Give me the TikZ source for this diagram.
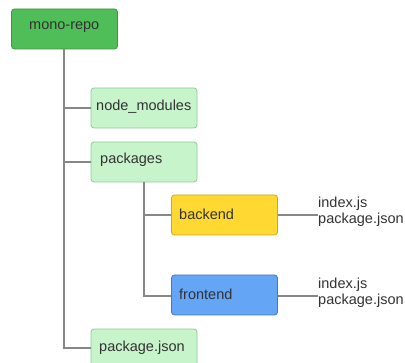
\documentclass[tikz,border=0pt]{standalone}
\usepackage{fontspec}
\setmainfont{Liberation Sans}
\definecolor{dgreen}{RGB}{80,190,88}
\definecolor{dgreenb}{RGB}{60,150,68}
\definecolor{lgreen}{RGB}{200,244,204}
\definecolor{lgreenb}{RGB}{150,200,155}
\definecolor{yel}{RGB}{255,216,50}
\definecolor{yelb}{RGB}{200,170,40}
\definecolor{blu}{RGB}{100,165,245}
\definecolor{blub}{RGB}{70,120,190}
\definecolor{txt}{RGB}{50,50,50}
\definecolor{ln}{RGB}{135,135,135}
\begin{document}
\begin{tikzpicture}[x=1pt,y=-1pt,
  box/.style={draw, rounded corners=3pt, line width=0.8pt, minimum width=106pt, minimum height=40pt, inner sep=0pt, font=\fontsize{14.5}{16}\selectfont, text=txt},
  conn/.style={draw=ln, line width=1.3pt},
  lab/.style={anchor=west, inner sep=0pt, align=left, font=\fontsize{14.5}{16.5}\selectfont, text=txt}]
\useasboundingbox (0,0) rectangle (405,363);
\node[box, fill=dgreen, draw=dgreenb] (mono) at (64.5,29) {};
\node[lab] (monot) at (29,27) {mono-repo};
\node[box, fill=lgreen, draw=lgreenb] (nm) at (144,108) {};
\node[lab] (nmt) at (96,107) {node\_modules};
\node[box, fill=lgreen, draw=lgreenb] (pk) at (144,162) {};
\node[lab] (pkt) at (100,160) {packages};
\node[box, fill=yel, draw=yelb] (be) at (224.5,215) {};
\node[lab] (bet) at (179,214) {backend};
\node[box, fill=blu, draw=blub] (fe) at (224.5,295) {};
\node[lab] (fet) at (179,294) {frontend};
\node[box, fill=lgreen, draw=lgreenb, minimum height=44pt] (pj) at (144,351) {};
\node[lab] (pjt) at (99,348) {package.json};
\node[lab] (bef) at (318,212) {index.js\\package.json};
\node[lab] (fef) at (318,293) {index.js\\package.json};
\coordinate (v1) at (64,348);
\draw[conn] (mono.south -| v1) -- (v1) -- (pj.west |- v1);
\draw[conn] (nm.west -| v1) -- (nm.west);
\draw[conn] (pk.west -| v1) -- (pk.west);
\coordinate (v2) at (144,296);
\draw[conn] (pk.south -| v2) -- (v2) -- (fe.west |- v2);
\draw[conn] (be.west -| v2) -- (be.west);
\draw[conn] (be.east) -- (be.east -| bef.west);
\draw[conn] (fe.east |- v2) -- (v2 -| fef.west);
\end{tikzpicture}
\end{document}
